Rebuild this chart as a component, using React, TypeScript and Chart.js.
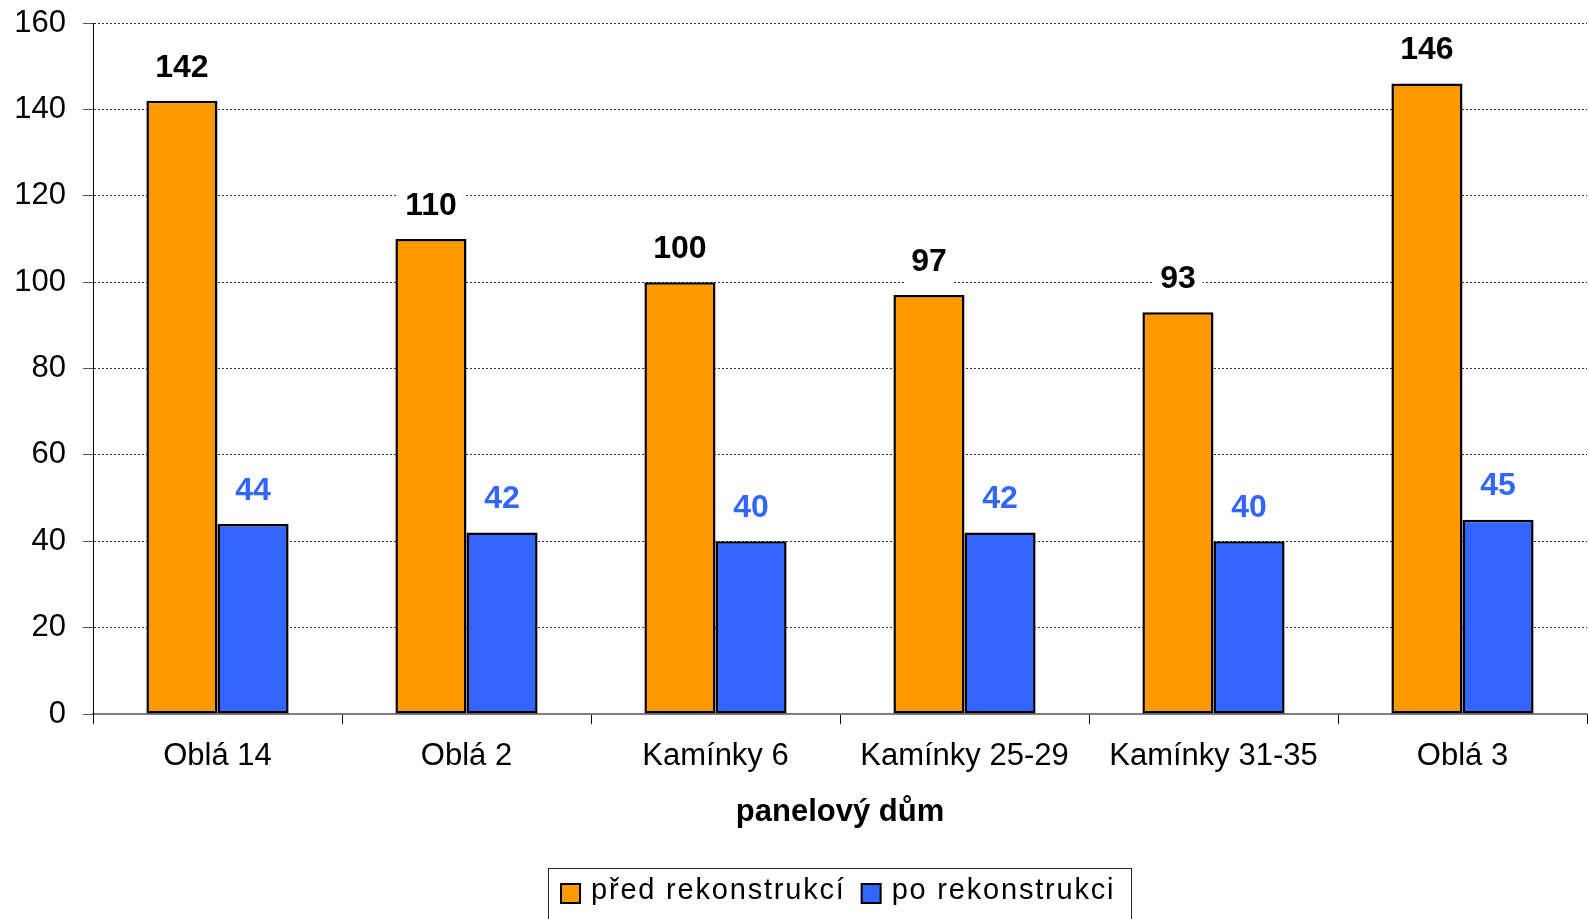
import React, { useEffect, useRef } from "react";
import { Chart, registerables } from "chart.js";

Chart.register(...registerables);

const categories = ["Oblá 14", "Oblá 2", "Kamínky 6", "Kamínky 25-29", "Kamínky 31-35", "Oblá 3"];
const seriesLabels = ["před rekonstrukcí", "po rekonstrukci"];
const beforeValues = [142, 110, 100, 97, 93, 146];
const afterValues = [44, 42, 40, 42, 40, 45];
const yMin = 0;
const yMax = 160;
const yStep = 20;
const xTitle = "panelový dům";
const seriesColors = ["#FF9900", "#3366FF"];
const valueLabelColors = ["#000000", "#3366FF"];

const FAMILY = "'Liberation Sans', Arial, Helvetica, sans-serif";

const valueLabels = {
  id: "valueLabels",
  afterDatasetsDraw(chart: any) {
    const ctx = chart.ctx;
    ctx.save();
    ctx.font = `bold 32px ${FAMILY}`;
    ctx.textAlign = "center";
    ctx.textBaseline = "middle";
    chart.data.datasets.forEach((ds: any, di: number) => {
      const meta = chart.getDatasetMeta(di);
      meta.data.forEach((el: any, i: number) => {
        const text = String(ds.data[i]);
        const w = ctx.measureText(text).width + 14;
        const cx = el.x;
        const cy = el.y - 33;
        ctx.fillStyle = "#ffffff";
        ctx.fillRect(cx - w / 2, cy - 25, w, 46);
        ctx.fillStyle = valueLabelColors[di];
        ctx.fillText(text, cx, cy);
      });
    });
    ctx.restore();
  },
};

const boxedLegend = {
  id: "boxedLegend",
  afterDraw(chart: any) {
    const ctx = chart.ctx;
    ctx.save();
    ctx.font = `29px ${FAMILY}`;
    const spacing = 1.8;
    (ctx as any).letterSpacing = "0px";
    const items = chart.data.datasets.map((ds: any) => ({
      text: ds.label,
      color: ds.backgroundColor,
      w: ctx.measureText(ds.label).width + ds.label.length * spacing,
    }));
    const sq = 19;
    const gapText = 11;
    const gapItem = 16;
    const padL = 13;
    const padR = 16;
    let content = 0;
    items.forEach((it: any, i: number) => {
      content += sq + gapText + it.w + (i > 0 ? gapItem : 0);
    });
    const boxW = content + padL + padR;
    const area = chart.chartArea;
    const cx = (area.left + area.right) / 2;
    const left = Math.round(cx - boxW / 2);
    const top = Math.round(area.bottom + 154);
    ctx.strokeStyle = "#222";
    ctx.lineWidth = 1;
    ctx.strokeRect(left + 0.5, top + 0.5, Math.round(boxW), 120);
    let x = left + padL;
    ctx.textAlign = "left";
    ctx.textBaseline = "middle";
    (ctx as any).letterSpacing = `${spacing}px`;
    items.forEach((it: any, i: number) => {
      if (i > 0) x += gapItem;
      ctx.fillStyle = it.color;
      ctx.fillRect(x, top + 16, sq, sq);
      ctx.strokeStyle = "#000";
      ctx.lineWidth = 2;
      ctx.strokeRect(x, top + 16, sq, sq);
      x += sq + gapText;
      ctx.fillStyle = "#000";
      ctx.fillText(it.text, x, top + 23);
      x += it.w;
    });
    (ctx as any).letterSpacing = "0px";
    ctx.restore();
  },
};

export default function App() {
  const canvasRef = useRef<HTMLCanvasElement | null>(null);

  useEffect(() => {
    if (!canvasRef.current) return;
    const chart = new Chart(canvasRef.current, {
      type: "bar",
      data: {
        labels: categories,
        datasets: [
          {
            label: seriesLabels[0],
            data: beforeValues,
            backgroundColor: seriesColors[0],
            borderColor: "#000000",
            borderWidth: 2.5,
            borderSkipped: false,
            categoryPercentage: 0.571,
            barPercentage: 1,
          },
          {
            label: seriesLabels[1],
            data: afterValues,
            backgroundColor: seriesColors[1],
            borderColor: "#000000",
            borderWidth: 2.5,
            borderSkipped: false,
            categoryPercentage: 0.571,
            barPercentage: 1,
          },
        ],
      },
      options: {
        animation: false,
        responsive: true,
        maintainAspectRatio: false,
        devicePixelRatio: 1,
        layout: { padding: { top: 23, right: 2, bottom: 85, left: 0 } },
        plugins: {
          legend: { display: false },
          tooltip: { enabled: false },
          title: { display: false },
        },
        scales: {
          x: {
            grid: {
              display: true,
              drawOnChartArea: false,
              drawTicks: true,
              tickLength: 10,
              color: "#000",
              offset: true,
            },
            border: { display: true, color: "#808080", width: 2 },
            ticks: {
              color: "#000",
              font: { family: FAMILY, size: 31 },
              padding: 14,
              maxRotation: 0,
              autoSkip: false,
            },
            title: {
              display: true,
              text: xTitle,
              color: "#000",
              font: { family: FAMILY, size: 31, weight: "bold" },
              padding: { top: 0, bottom: 3 },
            },
            afterFit(scale: any) {
              scale.height = 120;
              scale.paddingLeft = 0;
              scale.paddingRight = 0;
            },
          },
          y: {
            min: yMin,
            max: yMax,
            ticks: {
              stepSize: yStep,
              color: "#000",
              font: { family: FAMILY, size: 31 },
              padding: 17,
            },
            grid: {
              color: (c: any) => (c.tick && c.tick.value === 0 ? "rgba(0,0,0,0)" : "#333"),
              lineWidth: 1,
              tickLength: 10,
              tickColor: "#555",
              tickBorderDash: [],
              drawTicks: true,
            },
            border: { display: true, color: "#000", width: 1, dash: [2, 2] },
            afterFit(scale: any) {
              scale.width = 93;
              scale.paddingTop = 0;
              scale.paddingBottom = 0;
            },
          },
        },
      } as any,
      plugins: [valueLabels, boxedLegend],
    });
    return () => chart.destroy();
  }, []);

  return (
    <div style={{ position: "absolute", left: 0, top: 0, width: 1589, height: 919, background: "#fff" }}>
      <canvas ref={canvasRef} />
    </div>
  );
}
